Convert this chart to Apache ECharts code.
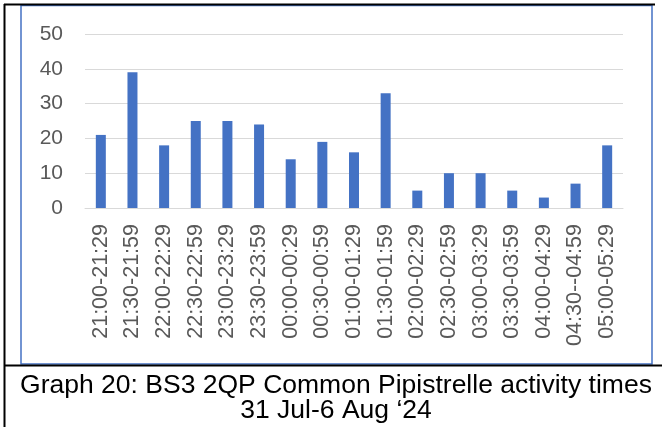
<!DOCTYPE html>
<html>
<head>
<meta charset="utf-8">
<script src="https://cdn.jsdelivr.net/npm/echarts@6/dist/echarts.min.js"></script>
<style>
html,body{margin:0;padding:0;background:#fff;}
#c{width:662px;height:427px;}
</style>
</head>
<body>
<div id="c"></div>
<script>
var categories = ["21:00-21:29","21:30-21:59","22:00-22:29","22:30-22:59","23:00-23:29","23:30-23:59","00:00-00:29","00:30-00:59","01:00-01:29","01:30-01:59","02:00-02:29","02:30-02:59","03:00-03:29","03:30-03:59","04:00-04:29","04:30--04:59","05:00-05:29"];
var values = [21,39,18,25,25,24,14,19,16,33,5,10,10,5,3,7,18];
var yMin = 0, yMax = 50, yInterval = 10;
var captionLines = ["Graph 20: BS3 2QP Common Pipistrelle activity times", "31 Jul-6 Aug \u201824"];

var chart = echarts.init(document.getElementById('c'), null, {renderer:'canvas'});
chart.setOption({
  animation:false,
  backgroundColor:'#ffffff',
  grid:{left:85,right:39,top:34,bottom:219,containLabel:false},
  xAxis:{
    type:'category',
    data:categories,
    axisLine:{lineStyle:{color:'#d9d9d9',width:1}},
    axisTick:{show:false},
    axisLabel:{rotate:90,interval:0,margin:16,color:'#595959',fontSize:21.5,fontFamily:'Liberation Sans'}
  },
  yAxis:{
    type:'value',min:yMin,max:yMax,interval:yInterval,
    axisLine:{show:false},axisTick:{show:false},
    splitLine:{lineStyle:{color:'#d9d9d9',width:1}},
    axisLabel:{margin:22,color:'#595959',fontSize:21,fontFamily:'Liberation Sans'}
  },
  series:[{
    type:'bar',data:values,barWidth:10,
    itemStyle:{color:'#4472c4'}
  }],
  graphic:[
    {type:'rect',shape:{x:21,y:5.5,width:631,height:358.5},style:{fill:null,stroke:'#4472c4',lineWidth:1.5},silent:true},
    {type:'line',shape:{x1:4.5,y1:4,x2:4.5,y2:427},style:{stroke:'#000',lineWidth:2}},
    {type:'line',shape:{x1:4,y1:4.5,x2:655,y2:4.5},style:{stroke:'#000',lineWidth:2}},
    {type:'line',shape:{x1:4,y1:365.5,x2:662,y2:365.5},style:{stroke:'#000',lineWidth:2}},
    {type:'text',x:336,y:386,style:{text:captionLines[0],font:'26.5px "Liberation Sans"',fill:'#000',textAlign:'center',textVerticalAlign:'middle'}},
    {type:'text',x:336,y:411,style:{text:captionLines[1],font:'26.5px "Liberation Sans"',fill:'#000',textAlign:'center',textVerticalAlign:'middle'}}
  ]
});
</script>
</body>
</html>
